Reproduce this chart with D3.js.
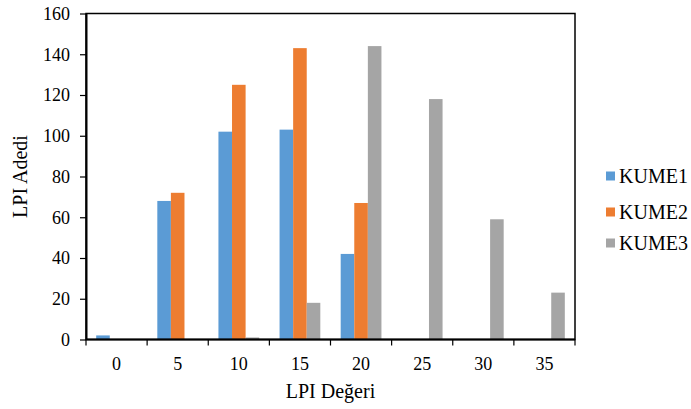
<!DOCTYPE html>
<html>
<head>
<meta charset="utf-8">
<script src="https://cdn.jsdelivr.net/npm/d3@7"></script>
<style>
  html, body { margin: 0; padding: 0; background: #fff; }
  svg { display: block; }
</style>
</head>
<body>
<svg id="chart" width="691" height="409"></svg>
<script>
// LPI value classes (x categories)
const categories = ["0", "5", "10", "15", "20", "25", "30", "35"];
// LPI counts per cluster
const kume1 = [2, 68, 102, 103, 42, 0, 0, 0];
const kume2 = [0, 72, 125, 143, 67, 0, 0, 0];
const kume3 = [0, 0, 1, 18, 144, 118, 59, 23];
const seriesNames = ["KUME1", "KUME2", "KUME3"];
const seriesValues = [kume1, kume2, kume3];
const seriesColors = ["#5B9BD5", "#ED7D31", "#A5A5A5"];
const yTicks = [0, 20, 40, 60, 80, 100, 120, 140, 160];

const FONT = "'Liberation Serif', 'Times New Roman', Tinos, 'DejaVu Serif', serif";

const svg = d3.select("#chart");
const plot = { left: 86, right: 575, top: 13.5, bottom: 339.5 };

const x0 = d3.scaleBand().domain(categories).range([plot.left, plot.right]).paddingInner(0).paddingOuter(0);
const x1 = d3.scaleBand().domain(seriesNames).range([0, x0.bandwidth()]).paddingInner(0).paddingOuter(0.75);
const y = d3.scaleLinear().domain([0, 160]).range([plot.bottom, plot.top]);

// bars
const groups = svg.append("g").selectAll("g")
  .data(categories)
  .join("g")
  .attr("transform", d => `translate(${x0(d)},0)`);

groups.selectAll("rect")
  .data((d, i) => seriesNames.map((s, k) => ({ s, k, v: seriesValues[k][i] })))
  .join("rect")
  .attr("x", d => x1(d.s))
  .attr("width", x1.bandwidth())
  .attr("y", d => y(d.v))
  .attr("height", d => y(0) - y(d.v))
  .attr("fill", d => seriesColors[d.k]);

// frame around plot area
svg.append("rect")
  .attr("x", plot.left).attr("y", plot.top)
  .attr("width", plot.right - plot.left).attr("height", plot.bottom - plot.top)
  .attr("fill", "none").attr("stroke", "#000").attr("stroke-width", 1.5);

// y axis
const yAxis = d3.axisLeft(y).tickValues(yTicks).tickSize(6).tickPadding(10).tickSizeOuter(0);
const gy = svg.append("g").attr("transform", `translate(${plot.left},0)`).call(yAxis);
gy.select(".domain").attr("stroke", "#000").attr("stroke-width", 2);
gy.selectAll(".tick line").attr("stroke", "#000").attr("stroke-width", 1.2);
gy.selectAll(".tick text").style("font-family", FONT).style("font-size", "18px").attr("fill", "#000");

// x axis: tick marks at category boundaries, labels at category centres
const gx = svg.append("g").attr("transform", `translate(0,${plot.bottom})`);
gx.append("line").attr("x1", plot.left).attr("x2", plot.right).attr("stroke", "#000").attr("stroke-width", 2);
const bounds = categories.map(c => x0(c)).concat([x0(categories[categories.length - 1]) + x0.bandwidth()]);
gx.selectAll("line.tk").data(bounds).join("line")
  .attr("class", "tk")
  .attr("x1", d => d).attr("x2", d => d)
  .attr("y1", 0).attr("y2", 6)
  .attr("stroke", "#000").attr("stroke-width", 1.2);
gx.selectAll("text").data(categories).join("text")
  .attr("x", d => x0(d) + x0.bandwidth() / 2)
  .attr("y", 30.5)
  .attr("text-anchor", "middle")
  .style("font-family", FONT).style("font-size", "18px")
  .text(d => d);

// axis titles
svg.append("text")
  .attr("x", (plot.left + plot.right) / 2)
  .attr("y", 398)
  .attr("text-anchor", "middle")
  .style("font-family", FONT).style("font-size", "20px")
  .text("LPI Değeri");

svg.append("text")
  .attr("transform", `translate(27,${(plot.top + plot.bottom) / 2}) rotate(-90)`)
  .attr("text-anchor", "middle")
  .style("font-family", FONT).style("font-size", "20px")
  .text("LPI Adedi");

// legend
const legendY = [176, 212, 243];
const legend = svg.append("g").selectAll("g")
  .data(seriesNames)
  .join("g")
  .attr("transform", (d, i) => `translate(606,${legendY[i]})`);
legend.append("rect")
  .attr("x", 0).attr("y", -4.5).attr("width", 9).attr("height", 9)
  .attr("fill", (d, i) => seriesColors[i]);
legend.append("text")
  .attr("x", 13).attr("y", 7)
  .style("font-family", FONT).style("font-size", "20px")
  .text(d => d);
</script>
</body>
</html>
